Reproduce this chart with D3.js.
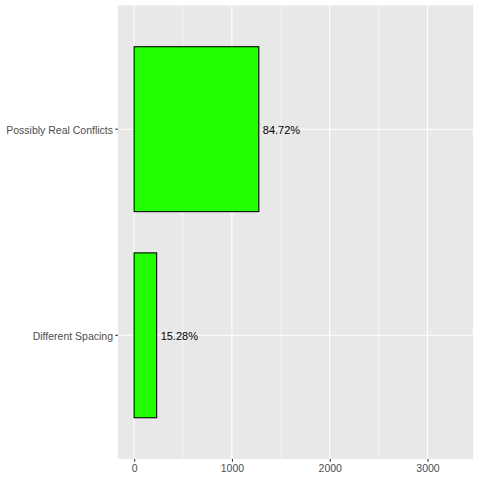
<!DOCTYPE html>
<html>
<head>
<meta charset="utf-8">
<script src="https://cdn.jsdelivr.net/npm/d3@7"></script>
<style>
  body { margin: 0; background: #fff; }
  svg text { font-family: "Liberation Sans", Arial, sans-serif; }
</style>
</head>
<body>
<script>
// conflict categories, bottom to top as in the picture
var categories = ['Different Spacing', 'Possibly Real Conflicts'];
var counts = [230, 1275];
var labels = ['15.28%', '84.72%'];
var xTicks = [0, 1000, 2000, 3000];
var xMinor = [500, 1500, 2500];

var width = 480, height = 480;
var panel = {left: 118, right: 473, top: 5.5, bottom: 459};

var svg = d3.select('body').append('svg')
    .attr('width', width)
    .attr('height', height);

// ggplot style expansion: limits 0..3300 with 5% each side
var x = d3.scaleLinear()
    .domain([-165, 3465])
    .range([panel.left, panel.right]);

// discrete axis, 0.6 units padding each end
var unit = (panel.bottom - panel.top) / 2.2;
var y = function(name) {
    var i = categories.indexOf(name);
    return panel.bottom - (0.6 + i) * unit;
};

svg.append('rect')
    .attr('x', panel.left)
    .attr('y', panel.top)
    .attr('width', panel.right - panel.left)
    .attr('height', panel.bottom - panel.top)
    .attr('fill', '#e8e8e8');

svg.selectAll('.minor')
    .data(xMinor)
    .enter().append('line')
    .attr('x1', d => x(d)).attr('x2', d => x(d))
    .attr('y1', panel.top).attr('y2', panel.bottom)
    .attr('stroke', '#fff').attr('stroke-width', 0.55);

svg.selectAll('.major')
    .data(xTicks)
    .enter().append('line')
    .attr('x1', d => x(d)).attr('x2', d => x(d))
    .attr('y1', panel.top).attr('y2', panel.bottom)
    .attr('stroke', '#fff').attr('stroke-width', 1.1);

svg.selectAll('.hmajor')
    .data(categories)
    .enter().append('line')
    .attr('x1', panel.left).attr('x2', panel.right)
    .attr('y1', d => y(d)).attr('y2', d => y(d))
    .attr('stroke', '#fff').attr('stroke-width', 1.1);

var barH = 0.8 * unit;
svg.selectAll('.bar')
    .data(categories)
    .enter().append('rect')
    .attr('x', x(0))
    .attr('y', d => y(d) - barH / 2)
    .attr('width', (d, i) => x(counts[i]) - x(0))
    .attr('height', barH)
    .attr('fill', '#22ff00')
    .attr('stroke', '#000')
    .attr('stroke-width', 1.07);

svg.selectAll('.lbl')
    .data(categories)
    .enter().append('text')
    .attr('x', (d, i) => x(counts[i]) + 4)
    .attr('y', d => y(d) + 1)
    .attr('dy', '0.35em')
    .attr('font-size', 11)
    .attr('fill', '#000')
    .text((d, i) => labels[i]);

// axes
var xAxis = d3.axisBottom(x).tickValues(xTicks).tickFormat(d3.format('d'))
    .tickSize(2.75).tickPadding(2.5);
var gx = svg.append('g')
    .attr('transform', 'translate(0,' + panel.bottom + ')')
    .call(xAxis);
gx.select('.domain').remove();
gx.selectAll('line').attr('stroke', '#333').attr('stroke-width', 1.07);
gx.selectAll('text').attr('fill', '#4d4d4d').attr('font-size', 10.5)
    .style('font-family', '"Liberation Sans", Arial, sans-serif');

var gy = svg.append('g');
gy.selectAll('line')
    .data(categories)
    .enter().append('line')
    .attr('x1', panel.left - 2.75).attr('x2', panel.left)
    .attr('y1', d => y(d)).attr('y2', d => y(d))
    .attr('stroke', '#333').attr('stroke-width', 1.07);
gy.selectAll('text')
    .data(categories)
    .enter().append('text')
    .attr('x', panel.left - 5)
    .attr('y', d => y(d) + 1)
    .attr('dy', '0.35em')
    .attr('text-anchor', 'end')
    .attr('font-size', 10.5)
    .attr('fill', '#4d4d4d')
    .text(d => d);
</script>
</body>
</html>
